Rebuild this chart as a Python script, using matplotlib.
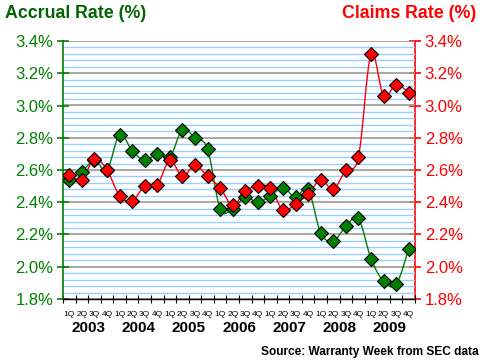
import numpy as np
import matplotlib
matplotlib.use("Agg")
import matplotlib.pyplot as plt
from matplotlib.path import Path
from matplotlib.patches import PathPatch

plt.rcParams['font.family'] = ['Liberation Sans', 'DejaVu Sans']

years = ["2003", "2004", "2005", "2006", "2007", "2008", "2009"]
quarters = ["1Q", "2Q", "3Q", "4Q"]

# accrual rate (%), 2003 Q1 .. 2009 Q4
accrual = [2.54, 2.59, 2.66, 2.60, 2.82, 2.72, 2.66, 2.70,
           2.68, 2.85, 2.80, 2.73, 2.36, 2.36, 2.43, 2.40,
           2.44, 2.49, 2.43, 2.48, 2.21, 2.16, 2.25, 2.30,
           2.05, 1.91, 1.89, 2.11]
# claims rate (%)
claims = [2.57, 2.54, 2.67, 2.60, 2.44, 2.41, 2.50, 2.51,
          2.66, 2.56, 2.63, 2.56, 2.49, 2.38, 2.47, 2.50,
          2.49, 2.35, 2.39, 2.45, 2.54, 2.48, 2.60, 2.68,
          3.32, 3.06, 3.13, 3.08]

GREEN = "#008000"
DARKGREEN = "#006400"
RED = "#ff0000"


def smooth_path(x, y):
    # bezier curve through the points, like excel's "smoothed line"
    pts = np.column_stack([x, y])
    verts = [pts[0]]
    codes = [Path.MOVETO]
    n = len(pts)
    for i in range(n - 1):
        p0 = pts[max(i - 1, 0)]
        p1 = pts[i]
        p2 = pts[i + 1]
        p3 = pts[min(i + 2, n - 1)]
        c1 = p1 + (p2 - p0) / 6.0
        c2 = p2 - (p3 - p1) / 6.0
        verts += [c1, c2, p2]
        codes += [Path.CURVE4] * 3
    return Path(verts, codes)


fig = plt.figure(figsize=(4.85, 3.62), dpi=100)
ax = fig.add_axes([63 / 485, 1 - 299 / 362, 352 / 485, 258 / 362])
ax2 = ax.twinx()

x = np.arange(len(accrual))
ymin, ymax = 1.8, 3.4

# grid
for v in np.arange(ymin, ymax + 0.001, 0.04):
    if abs(round(v / 0.2) * 0.2 - v) < 1e-6:
        ax.axhline(v, color="#999999", lw=1.2, zorder=1)
    else:
        ax.axhline(v, color="#99ccff", lw=1.0, zorder=1)

ax.add_patch(PathPatch(smooth_path(x, accrual), fill=False, ec=GREEN, lw=1.0, zorder=3))
ax.add_patch(PathPatch(smooth_path(x, claims), fill=False, ec=RED, lw=1.0, zorder=3))
ax.plot(x, accrual, ls="none", marker="D", ms=7.2, mfc=GREEN, mec="black", mew=0.8, zorder=4)
ax.plot(x, claims, ls="none", marker="D", ms=7.2, mfc=RED, mec="black", mew=0.8, zorder=5)

ax.set_xlim(-0.5, len(x) - 0.5)
ax.set_ylim(ymin, ymax)
ax2.set_ylim(ymin, ymax)

yt = np.arange(ymin, ymax + 0.001, 0.2)
ax.set_yticks(yt)
ax.set_yticklabels(["%.1f%%" % v for v in yt], color=GREEN, fontsize=12)
ax2.set_yticks(yt)
ax2.set_yticklabels(["%.1f%%" % v for v in yt], color=RED, fontsize=12)
ax.tick_params(axis="y", direction="inout", length=8, width=1.2, color=GREEN, pad=3)
ax2.tick_params(axis="y", direction="inout", length=8, width=1.2, color=RED, pad=3)

ax.set_xticks(np.arange(-0.5, len(x)))
ax.set_xticklabels([])
ax.tick_params(axis="x", direction="inout", length=6, width=0.8, color="black")

for a in (ax, ax2):
    a.spines["top"].set_visible(False)
ax.spines["left"].set_color(GREEN)
ax.spines["left"].set_linewidth(1.2)
ax.spines["right"].set_visible(False)
ax2.spines["left"].set_visible(False)
ax2.spines["bottom"].set_visible(False)
ax2.spines["right"].set_color(RED)
ax2.spines["right"].set_linewidth(1.2)
ax.spines["bottom"].set_color("black")
ax.spines["bottom"].set_linewidth(1.0)
ax.set_zorder(ax2.get_zorder() + 1)
ax.patch.set_visible(False)

trans = ax.get_xaxis_transform()
for i in range(len(x)):
    ax.text(i, -0.045, quarters[i % 4], transform=trans, ha="center", va="top",
            fontsize=6, color="black")
for k, yr in enumerate(years):
    ax.text(4 * k + 1.5, -0.085, yr, transform=trans, ha="center", va="top",
            fontsize=11, fontweight="bold", color="black")

fig.text(5 / 485, 1 - 14 / 362, "Accrual Rate (%)", color=DARKGREEN, fontsize=12.8,
         fontweight="bold", ha="left", va="center")
fig.text(476 / 485, 1 - 14 / 362, "Claims Rate (%)", color=RED, fontsize=12.8,
         fontweight="bold", ha="right", va="center")
fig.text(479 / 485, 1 - 352 / 362, "Source: Warranty Week from SEC data", color="black",
         fontsize=8.6, fontweight="bold", ha="right", va="center")

fig.savefig("out.png", dpi=100)
